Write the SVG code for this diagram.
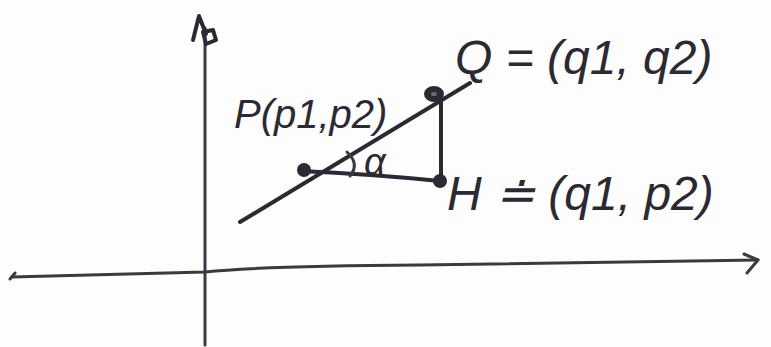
<svg xmlns="http://www.w3.org/2000/svg" width="771" height="347" viewBox="0 0 771 347">
<style>
.ink{fill:none;stroke:#2b2a33;stroke-width:4;stroke-linecap:round;stroke-linejoin:round}
.thin{fill:none;stroke:#3a3942;stroke-width:3;stroke-linecap:round;stroke-linejoin:round}
.lbl{font-family:"Liberation Sans",Arial,sans-serif;fill:#2b2a33;font-style:italic}
.dot{fill:#2b2a33}
</style>
<rect width="771" height="347" fill="#fdfdfd"/>
<g id="axes">
<path class="thin" d="M205,345 L205,28"/>
<path class="ink" d="M193,40 L199,16 L206,34 M203,32 L213,30 L216,40 L206,44 Z" fill="#2b2a33"/>
<path class="thin" d="M12,277 Q80,275 205,272 Q260,266 420,265 Q600,262 758,260"/>
<path class="thin" d="M10,279 L15,273 M744,254 L758,260 L747,273"/>
</g>
<g id="connectors">
<path class="ink" d="M240,222 L470,83"/>
<path class="ink" d="M300,171 Q370,174 440,181"/>
<path class="ink" d="M441,100 L441,178"/>
<path class="thin" d="M347,152 Q360,164 350,176"/>
</g>
<g id="P">
<circle class="dot" cx="304" cy="170" r="7"/>
<text class="lbl" x="234" y="128" font-size="40">P(p1,p2)</text>
</g>
<g id="alpha">
<text class="lbl" x="364" y="175" font-size="38">α</text>
</g>
<g id="Q">
<ellipse cx="434" cy="94" rx="9" ry="7" fill="#2b2a33" stroke="#2b2a33" stroke-width="2"/>
<ellipse cx="434" cy="94" rx="3" ry="2" fill="#6a6a72"/>
<text class="lbl" x="455" y="74" font-size="48">Q = (q1, q2)</text>
</g>
<g id="H">
<circle class="dot" cx="440" cy="181" r="7"/>
<text class="lbl" x="447" y="210" font-size="48">H ≐ (q1, p2)</text>
</g>
</svg>
